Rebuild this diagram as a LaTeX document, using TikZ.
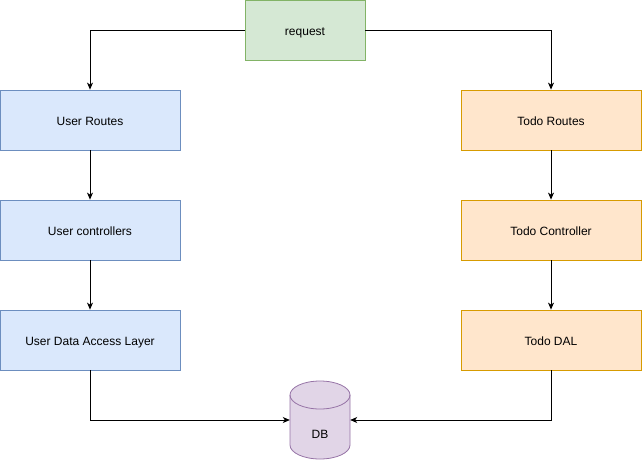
\documentclass[tikz,border=0pt]{standalone}
\usepackage{fontspec}
\setmainfont{Liberation Sans}
\usetikzlibrary{arrows.meta}
\definecolor{gfill}{HTML}{D5E8D4}\definecolor{gline}{HTML}{82B366}
\definecolor{bfill}{HTML}{DAE8FC}\definecolor{bline}{HTML}{6C8EBF}
\definecolor{ofill}{HTML}{FFE6CC}\definecolor{oline}{HTML}{D79B00}
\definecolor{pfill}{HTML}{E1D5E7}\definecolor{pline}{HTML}{9673A6}
\begin{document}
\begin{tikzpicture}[x=1pt,y=-1pt,
  lbl/.style={font=\fontsize{12}{14}\selectfont,text height=11pt,text depth=0.4pt},
  box/.style={lbl,rectangle,minimum width=180pt,minimum height=60pt,inner sep=0pt,line width=0.8pt},
  bluebox/.style={box,draw=bline,fill=bfill},
  orangebox/.style={box,draw=oline,fill=ofill},
  greenbox/.style={box,draw=gline,fill=gfill,minimum width=120pt},
  conn/.style={line width=0.8pt,-{Stealth[length=7pt,width=6pt,inset=2pt]}}]
\useasboundingbox (0,0) rectangle (642,461);
\node[greenbox] (req) at (305,30) {request};
\node[bluebox] (ur) at (90,120) {User Routes};
\node[bluebox] (uc) at (90,230) {User controllers};
\node[bluebox] (ud) at (90,340) {User Data Access Layer};
\node[orangebox] (tr) at (551,120) {Todo Routes};
\node[orangebox] (tc) at (551,230) {Todo Controller};
\node[orangebox] (td) at (551,340) {Todo DAL};
% cylinder
\filldraw[fill=pfill,draw=pline,line width=0.8pt]
  (290,395) -- (290,445) arc[start angle=180,end angle=0,x radius=30,y radius=14]
  -- (350,395) arc[start angle=0,end angle=-180,x radius=30,y radius=14] -- cycle;
\draw[pline,line width=0.8pt] (290,395) arc[start angle=180,end angle=0,x radius=30,y radius=14];
\node[rectangle,minimum width=60pt,minimum height=80pt,inner sep=0pt] (db) at (320,420) {};
\node[lbl,inner sep=0pt] (dbl) at (320,433) {DB};
\draw[conn] (req.west) -| (ur.north);
\draw[conn] (req.east) -| (tr.north);
\draw[conn] (ur) -- (uc);
\draw[conn] (uc) -- (ud);
\draw[conn] (tr) -- (tc);
\draw[conn] (tc) -- (td);
\draw[conn] (ud.south) |- (db.west);
\draw[conn] (td.south) |- (db.east);
\end{tikzpicture}
\end{document}
